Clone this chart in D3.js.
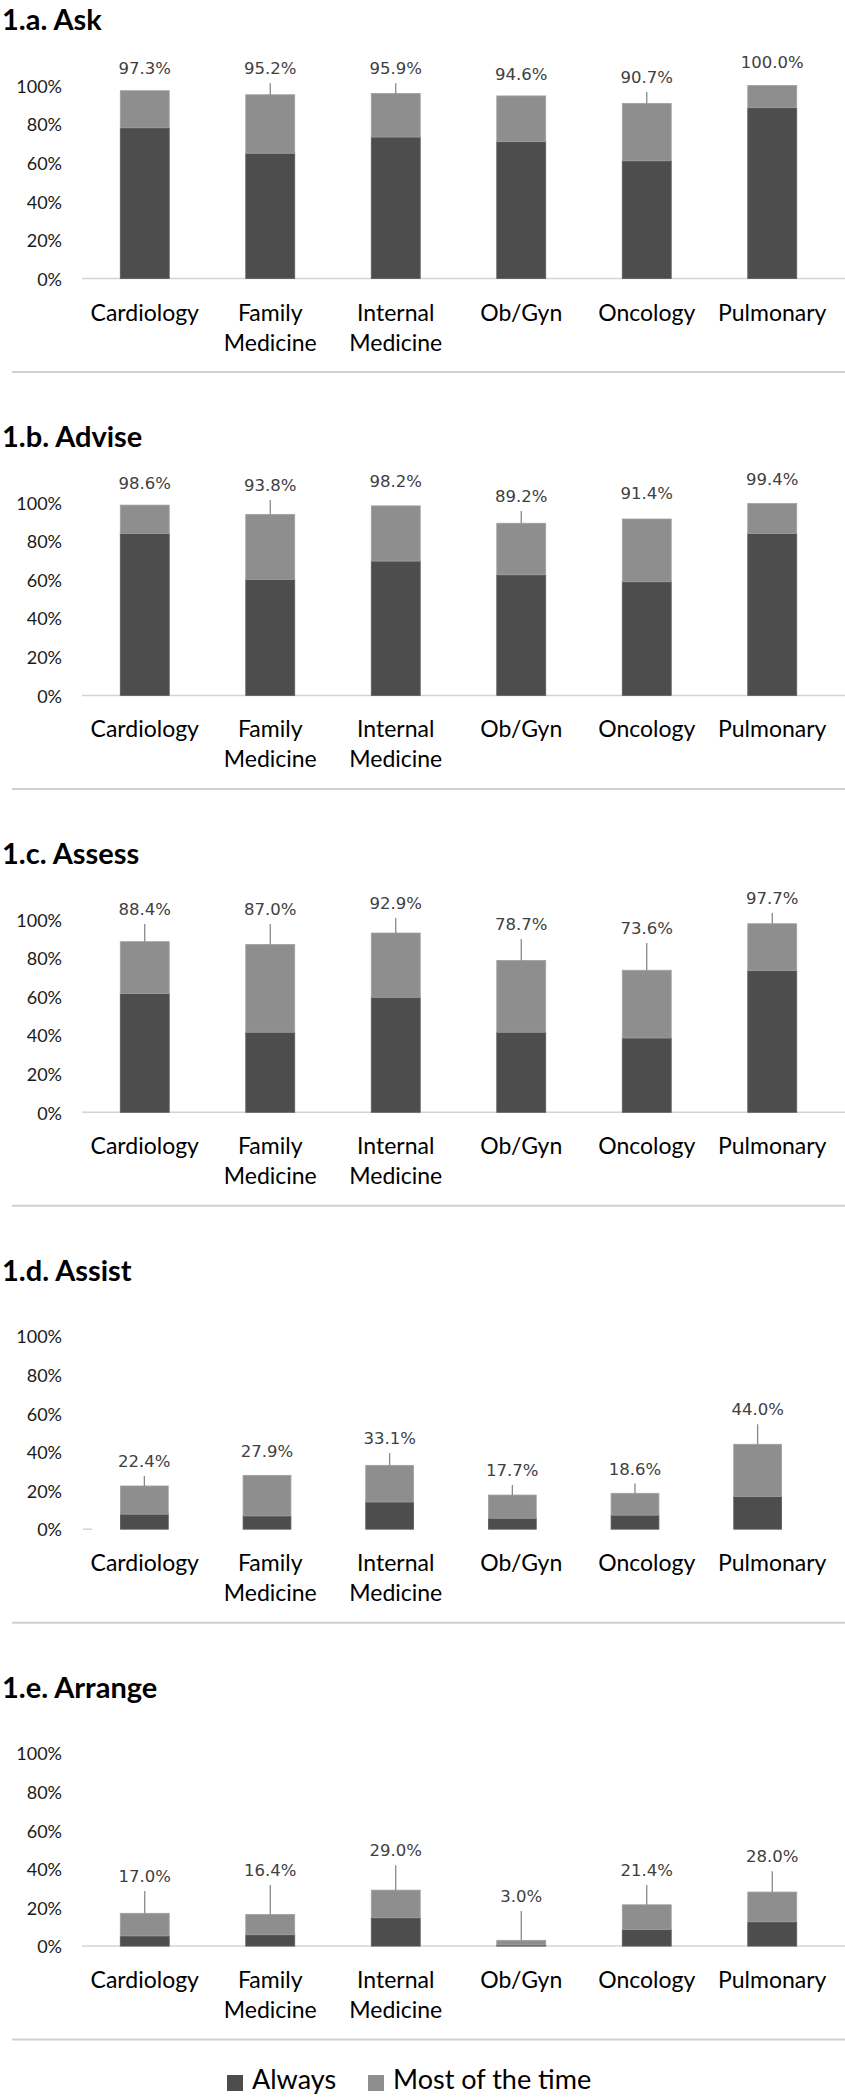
<!DOCTYPE html>
<html>
<head>
<meta charset="utf-8">
<script src="https://cdn.jsdelivr.net/npm/d3@7"></script>
<style>
  html, body { margin: 0; padding: 0; background: #ffffff; }
  svg { display: block; }
</style>
</head>
<body>
<svg id="chart" width="845" height="2100"></svg>
<script>
// ---------- DATA ----------
const categories = ["Cardiology", "Family Medicine", "Internal Medicine", "Ob/Gyn", "Oncology", "Pulmonary"];
const seriesNames = ["Always", "Most of the time"];
const yTicks = [0, 20, 40, 60, 80, 100];

const panelTitles = ["1.a. Ask", "1.b. Advise", "1.c. Assess", "1.d. Assist", "1.e. Arrange"];

// "Always" share (%) per specialty
const askAlways     = [78.1, 64.9, 73.3, 70.9, 61.0, 88.5];
const adviseAlways  = [83.9, 60.1, 69.6, 62.5, 58.9, 83.9];
const assessAlways  = [61.5, 41.5, 59.6, 41.5, 38.5, 73.4];
const assistAlways  = [7.8, 6.9, 14.1, 5.7, 7.3, 16.9];
const arrangeAlways = [5.3, 5.9, 14.7, 0.6, 8.6, 12.6];

// Total "Always" + "Most of the time" (%) (data labels)
const askTotal     = [97.3, 95.2, 95.9, 94.6, 90.7, 100.0];
const adviseTotal  = [98.6, 93.8, 98.2, 89.2, 91.4, 99.4];
const assessTotal  = [88.4, 87.0, 92.9, 78.7, 73.6, 97.7];
const assistTotal  = [22.4, 27.9, 33.1, 17.7, 18.6, 44.0];
const arrangeTotal = [17.0, 16.4, 29.0, 3.0, 21.4, 28.0];

// ---------- LAYOUT (label placement, in value units, and leader-line flags) ----------
const askLabelAt     = [108.9, 108.9, 108.9, 106.0, 104.4, 112.2];
const adviseLabelAt  = [110.2, 109.0, 111.0, 103.3, 105.0, 112.3];
const assessLabelAt  = [105.4, 105.4, 108.5, 97.6, 95.5, 111.1];
const assistLabelAt  = [35.4, 40.6, 47.2, 30.7, 31.4, 62.2];
const arrangeLabelAt = [36.3, 39.4, 49.7, 25.9, 39.4, 46.6];

const askLeader     = [0, 1, 1, 0, 1, 0];
const adviseLeader  = [0, 1, 0, 1, 0, 0];
const assessLeader  = [1, 1, 1, 1, 1, 1];
const assistLeader  = [1, 0, 1, 1, 1, 1];
const arrangeLeader = [1, 1, 1, 1, 1, 1];

const panels = [
  { title: panelTitles[0], always: askAlways,     total: askTotal,     labelAt: askLabelAt,     leader: askLeader,     fullAxis: true,  barRight: 835 },
  { title: panelTitles[1], always: adviseAlways,  total: adviseTotal,  labelAt: adviseLabelAt,  leader: adviseLeader,  fullAxis: true,  barRight: 835 },
  { title: panelTitles[2], always: assessAlways,  total: assessTotal,  labelAt: assessLabelAt,  leader: assessLeader,  fullAxis: true,  barRight: 835 },
  { title: panelTitles[3], always: assistAlways,  total: assistTotal,  labelAt: assistLabelAt,  leader: assistLeader,  fullAxis: false, barRight: 819 },
  { title: panelTitles[4], always: arrangeAlways, total: arrangeTotal, labelAt: arrangeLabelAt, leader: arrangeLeader, fullAxis: true,  barRight: 835 }
];

// ---------- STYLE ----------
const colDark = "#4d4d4d";
const colLight = "#8e8e8e";
const sansFont = "Lato, 'Open Sans', sans-serif";
const labelFont = "'DejaVu Sans', sans-serif";

const svg = d3.select("#chart");

const firstAxisY = 278.5;
const panelStep = 416.9;
const plotH = 193;
const xLeft = 82;

const xCat = d3.scaleBand().domain(categories).range([xLeft, 835]).paddingInner(0.61).paddingOuter(0.305);

panels.forEach((p, i) => {
  const axisY = firstAxisY + i * panelStep;
  const g = svg.append("g");

  const y = d3.scaleLinear().domain([0, 100]).range([axisY, axisY - plotH]);
  const xBar = d3.scaleBand().domain(categories).range([xLeft + (p.fullAxis ? 0 : 1), p.barRight]).paddingInner(0.61).paddingOuter(0.305);

  // Title
  g.append("text")
    .attr("x", 2).attr("y", axisY - 248.5)
    .attr("font-family", sansFont).attr("font-weight", "bold")
    .attr("font-size", 29).attr("fill", "#000")
    .text(p.title);

  // Y axis
  const yAxis = d3.axisLeft(y).tickValues(yTicks).tickSize(0).tickPadding(0).tickFormat(d => d + "%");
  const yg = g.append("g").attr("transform", "translate(62,1)").call(yAxis);
  yg.select(".domain").remove();
  yg.selectAll("text")
    .attr("font-family", sansFont).attr("font-size", 18).attr("fill", "#1a1a1a");

  // Baseline
  g.append("line")
    .attr("x1", xLeft + (p.fullAxis ? 0 : 1)).attr("x2", p.fullAxis ? 845 : 92)
    .attr("y1", axisY).attr("y2", axisY)
    .attr("stroke", "#d4d4d4").attr("stroke-width", 1.5);

  // Stack
  const rows = categories.map((c, k) => ({ cat: c, Always: p.always[k], "Most of the time": +(p.total[k] - p.always[k]).toFixed(2) }));
  const stacked = d3.stack().keys(seriesNames)(rows);
  const colors = [colDark, colLight];
  stacked.forEach((layer, li) => {
    g.append("g").selectAll("rect").data(layer).join("rect")
      .attr("x", d => xBar(d.data.cat))
      .attr("width", xBar.bandwidth())
      .attr("y", d => y(d[1]))
      .attr("height", d => Math.max(0, y(d[0]) - y(d[1])))
      .attr("fill", colors[li])
      .attr("stroke", li === 0 ? "#5a5a5a" : "#a0a0a0")
      .attr("stroke-width", 0.8);
  });

  // Data labels and leader lines
  categories.forEach((c, k) => {
    const cx = xBar(c) + xBar.bandwidth() / 2;
    const ly = y(p.labelAt[k]);
    g.append("text")
      .attr("x", cx).attr("y", ly).attr("dy", "0.36em")
      .attr("text-anchor", "middle")
      .attr("font-family", labelFont).attr("font-size", 16.5).attr("fill", "#404040")
      .text(p.total[k].toFixed(1) + "%");
    if (p.leader[k]) {
      g.append("line")
        .attr("x1", cx).attr("x2", cx)
        .attr("y1", ly + 15).attr("y2", y(p.total[k]))
        .attr("stroke", "#7f7f7f").attr("stroke-width", 1.2);
    }
  });

  // X axis category labels (two lines)
  const xAxis = d3.axisBottom(xCat).tickSize(0).tickPadding(0);
  const xg = g.append("g").attr("transform", `translate(0,${axisY})`).call(xAxis);
  xg.select(".domain").remove();
  xg.selectAll("text").each(function(d) {
    const t = d3.select(this);
    const words = d.split(" ");
    t.text(null).attr("y", 0).attr("dy", null)
      .attr("font-family", sansFont).attr("font-size", 23).attr("fill", "#000");
    words.forEach((w, wi) => {
      t.append("tspan").attr("x", 0).attr("y", 42 + wi * 30).text(w);
    });
  });

  // Separator
  g.append("line")
    .attr("x1", 12).attr("x2", 845)
    .attr("y1", axisY + 93.5).attr("y2", axisY + 93.5)
    .attr("stroke", "#d0d0d0").attr("stroke-width", 2);
});

// Legend
const legend = svg.append("g").attr("transform", "translate(0,2082)");
const legendX = [227, 368];
seriesNames.forEach((s, i) => {
  legend.append("rect")
    .attr("x", legendX[i]).attr("y", -7).attr("width", 16).attr("height", 16)
    .attr("fill", i === 0 ? colDark : colLight);
  legend.append("text")
    .attr("x", legendX[i] + 25).attr("y", 7)
    .attr("font-family", sansFont).attr("font-size", 27).attr("fill", "#000")
    .text(s);
});
</script>
</body>
</html>
